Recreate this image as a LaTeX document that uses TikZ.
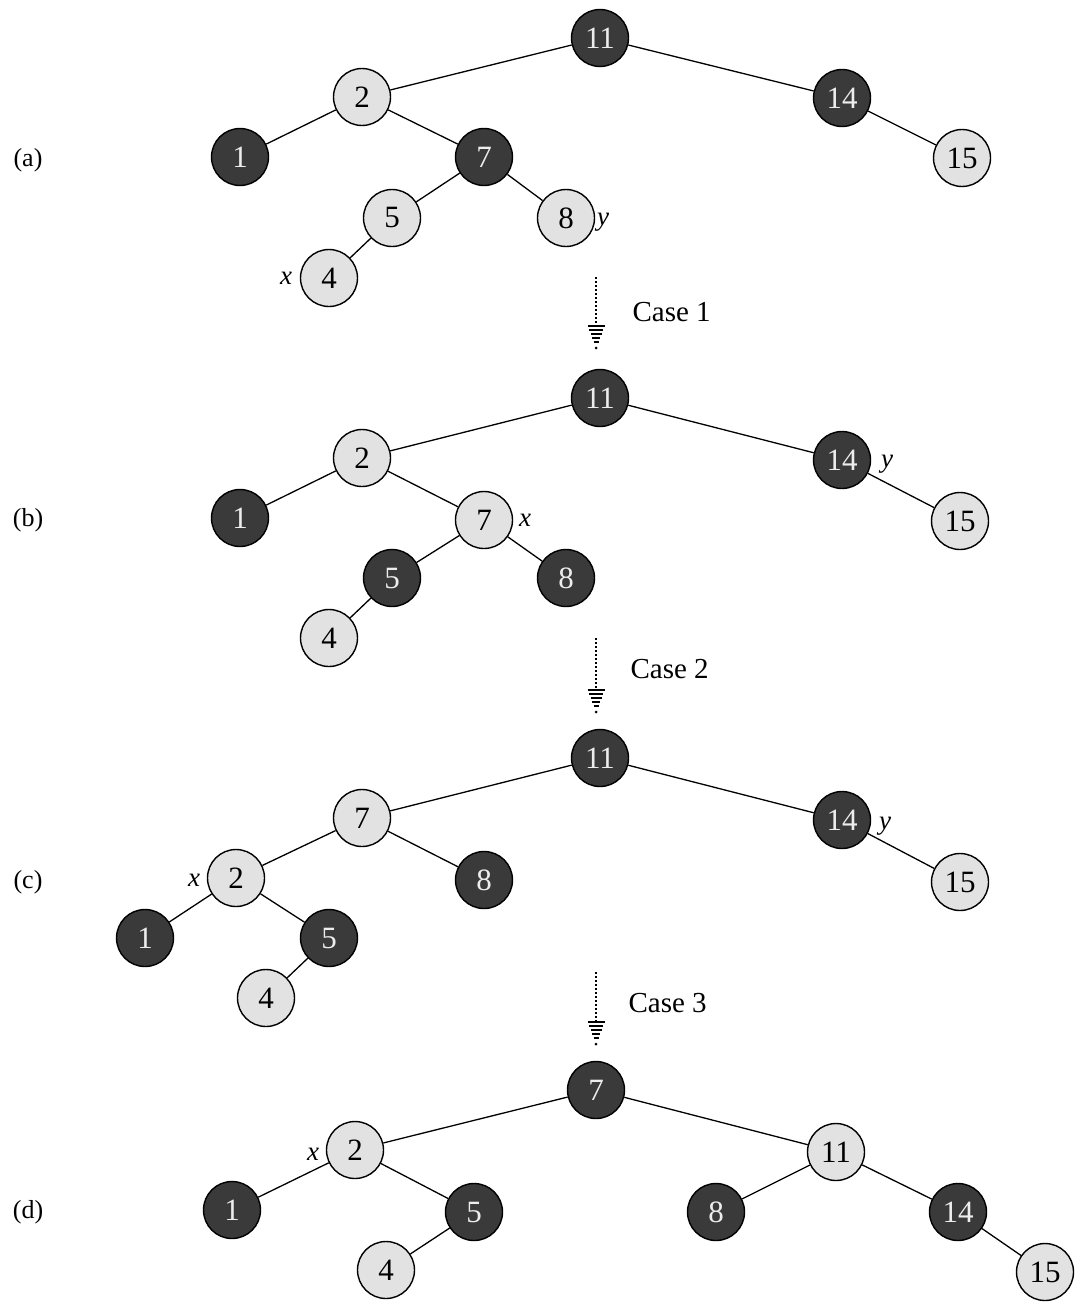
\documentclass[tikz,border=0pt]{standalone}
\usepackage{fontspec}
\setmainfont{Liberation Serif}
\definecolor{lightfill}{HTML}{E2E2E2}
\definecolor{darkfill}{HTML}{3A3A3A}
\definecolor{darktext}{HTML}{EDEDED}
\begin{document}
\begin{tikzpicture}[x=1pt,y=-1pt,
  rb/.style={circle,draw=black,line width=1.4pt,minimum size=57pt,inner sep=0pt,font=\fontsize{31}{31}\selectfont},
  rednode/.style={rb,fill=lightfill,text=black},
  blacknode/.style={rb,fill=darkfill,text=darktext},
  edge/.style={line width=1.3pt},
  ptr/.style={font=\itshape\fontsize{27}{27}\selectfont},
  panel/.style={font=\fontsize{26}{26}\selectfont},
  caselabel/.style={font=\fontsize{29}{29}\selectfont,anchor=west},
  shaft/.style={line width=2.6pt,dash pattern=on 1.6pt off 2.4pt}]
\useasboundingbox (0,0) rectangle (1075,1303);

% ---------- (a) ----------
\node[panel] (la) at (28,160) {(a)};
\node[blacknode] (a11) at (600,38) {11};
\node[rednode]   (a2)  at (362,97) {2};
\node[blacknode] (a14) at (842,98) {14};
\node[blacknode] (a1)  at (240,157) {1};
\node[blacknode] (a7)  at (484,157) {7};
\node[rednode]   (a15) at (962,158) {15};
\node[rednode]   (a5)  at (392,218) {5};
\node[rednode]   (a8)  at (566,218) {8};
\node[rednode]   (a4)  at (329,278) {4};
\node[ptr] (ay) at (603,222) {y};
\node[ptr] (ax) at (286,278) {x};
\draw[edge] (a11)--(a2) (a11)--(a14) (a2)--(a1) (a2)--(a7) (a14)--(a15)
  (a7)--(a5) (a7)--(a8) (a5)--(a4);

% arrow 1
\coordinate (s1) at (596,277);
\coordinate (e1) at (596,326);
\draw[shaft] (s1)--(e1);
\node[caselabel] (c1) at (629,312) {Case 1};

% ---------- (b) ----------
\node[panel] (lb) at (28,520) {(b)};
\node[blacknode] (b11) at (600,398) {11};
\node[rednode]   (b2)  at (362,458) {2};
\node[blacknode] (b14) at (842,460) {14};
\node[blacknode] (b1)  at (240,518) {1};
\node[rednode]   (b7)  at (484,520) {7};
\node[rednode]   (b15) at (960,521) {15};
\node[blacknode] (b5)  at (392,578) {5};
\node[blacknode] (b8)  at (566,578) {8};
\node[rednode]   (b4)  at (329,638) {4};
\node[ptr] (by) at (887,464) {y};
\node[ptr] (bx) at (525,520) {x};
\draw[edge] (b11)--(b2) (b11)--(b14) (b2)--(b1) (b2)--(b7) (b14)--(b15)
  (b7)--(b5) (b7)--(b8) (b5)--(b4);

% arrow 2
\coordinate (s2) at (596,638);
\coordinate (e2) at (596,690);
\draw[shaft] (s2)--(e2);
\node[caselabel] (c2) at (627,669) {Case 2};

% ---------- (c) ----------
\node[panel] (lc) at (28,882) {(c)};
\node[blacknode] (c11) at (600,758) {11};
\node[rednode]   (c7)  at (362,818) {7};
\node[blacknode] (c14) at (842,820) {14};
\node[rednode]   (c2)  at (236,878) {2};
\node[blacknode] (c8)  at (484,880) {8};
\node[rednode]   (c15) at (960,882) {15};
\node[blacknode] (c1)  at (145,938) {1};
\node[blacknode] (c5)  at (329,938) {5};
\node[rednode]   (c4)  at (266,998) {4};
\node[ptr] (cx) at (194,880) {x};
\node[ptr] (cy) at (885,826) {y};
\draw[edge] (c11)--(c7) (c11)--(c14) (c7)--(c2) (c7)--(c8) (c14)--(c15)
  (c2)--(c1) (c2)--(c5) (c5)--(c4);

% arrow 3
\coordinate (s3) at (596,972);
\coordinate (e3) at (596,1022);
\draw[shaft] (s3)--(e3);
\node[caselabel] (c3) at (625,1003) {Case 3};

% ---------- (d) ----------
\node[panel] (ld) at (28,1212) {(d)};
\node[blacknode] (d7)  at (596,1090) {7};
\node[rednode]   (d2)  at (355,1150) {2};
\node[rednode]   (d11) at (836,1152) {11};
\node[blacknode] (d1)  at (232,1210) {1};
\node[blacknode] (d5)  at (474,1212) {5};
\node[blacknode] (d8)  at (716,1212) {8};
\node[blacknode] (d14) at (958,1212) {14};
\node[rednode]   (d4)  at (386,1270) {4};
\node[rednode]   (d15) at (1045,1272) {15};
\node[ptr] (dx) at (313,1154) {x};
\draw[edge] (d7)--(d2) (d7)--(d11) (d2)--(d1) (d2)--(d5) (d5)--(d4)
  (d11)--(d8) (d11)--(d14) (d14)--(d15);

% arrow tips (hatched triangles)
\foreach \e in {e1,e2,e3}{
  \foreach \d/\w in {0/8.5,4/7,8/5.5,12/4,16/2.5}{
    \draw[line width=2.2pt] ([shift={(-\w,\d)}]\e) -- ([shift={(\w,\d)}]\e);}
  \fill ([shift={(0,22)}]\e) circle (1.5pt);
}
\end{tikzpicture}
\end{document}
